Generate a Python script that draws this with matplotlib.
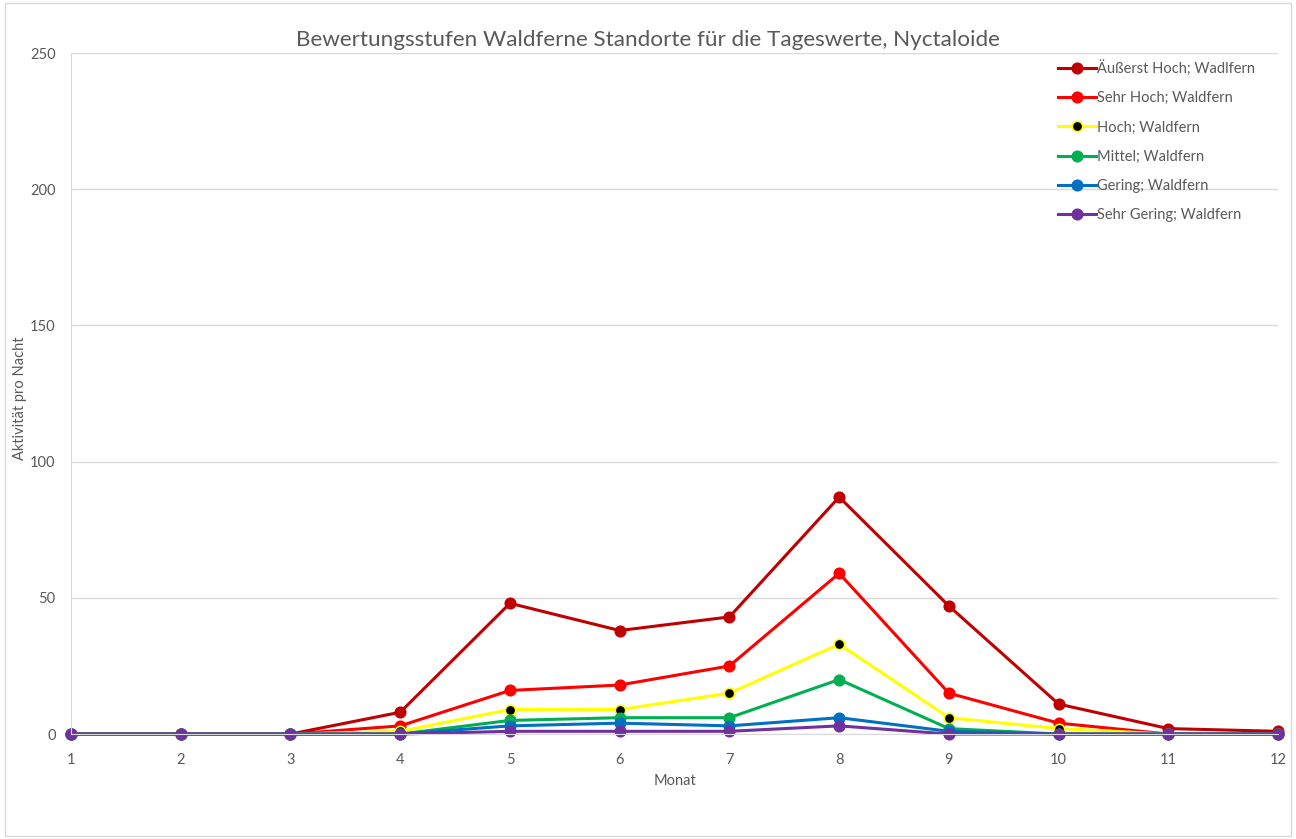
import matplotlib
matplotlib.use("Agg")
import matplotlib.pyplot as plt
from matplotlib.patches import Rectangle

plt.rcParams['font.family'] = ['Lato', 'DejaVu Sans']

months = [1, 2, 3, 4, 5, 6, 7, 8, 9, 10, 11, 12]
aeusserst_hoch = [0, 0, 0, 8, 48, 38, 43, 87, 47, 11, 2, 1]
sehr_hoch = [0, 0, 0, 3, 16, 18, 25, 59, 15, 4, 0, 0]
hoch = [0, 0, 0, 1, 9, 9, 15, 33, 6, 2, 0, 0]
mittel = [0, 0, 0, 0, 5, 6, 6, 20, 2, 0, 0, 0]
gering = [0, 0, 0, 0, 3, 4, 3, 6, 1, 0, 0, 0]
sehr_gering = [0, 0, 0, 0, 1, 1, 1, 3, 0, 0, 0, 0]

labels = ["Äußerst Hoch; Wadlfern", "Sehr Hoch; Waldfern", "Hoch; Waldfern",
          "Mittel; Waldfern", "Gering; Waldfern", "Sehr Gering; Waldfern"]
series = [aeusserst_hoch, sehr_hoch, hoch, mittel, gering, sehr_gering]
colors = ["#C00000", "#FF0000", "#FFFF00", "#00B050", "#0070C0", "#7030A0"]
face = ["#C00000", "#FF0000", "#000000", "#00B050", "#0070C0", "#7030A0"]

fig = plt.figure(figsize=(12.96, 8.39), dpi=100)
fig.patches.append(Rectangle((0.004, 0.004), 0.992, 0.992, transform=fig.transFigure,
                             fill=False, edgecolor="#D9D9D9", linewidth=1))
ax = fig.add_axes([0.0548, 0.1251, 0.9314, 0.8117])

for ys, lab, c, fc in zip(series, labels, colors, face):
    ax.plot(months, ys, color=c, linewidth=2.2, marker='o', markersize=7.5,
            markerfacecolor=fc, markeredgecolor=c, markeredgewidth=1.2, label=lab,
            clip_on=False)

ax.set_xlim(1, 12)
ax.set_ylim(0, 250)
ax.set_xticks(months)
ax.set_yticks([0, 50, 100, 150, 200, 250])
ax.yaxis.grid(True, color="#D9D9D9", linewidth=1)
ax.set_axisbelow(True)
for s in ["top", "right"]:
    ax.spines[s].set_visible(False)
ax.spines["left"].set_color("#D9D9D9")
ax.spines["bottom"].set_color("#D9D9D9")
ax.tick_params(axis='y', length=0, pad=11, labelsize=10.5, labelcolor="#595959")
ax.tick_params(axis='x', length=0, pad=14, labelsize=10.5, labelcolor="#595959")

fig.text(0.5, 1 - 40 / 839, "Bewertungsstufen Waldferne Standorte für die Tageswerte, Nyctaloide",
         fontsize=16.2, color="#595959", ha="center", va="center")
fig.text(675 / 1296, 1 - 781 / 839, "Monat", fontsize=10.5, color="#595959",
         ha="center", va="center")
fig.text(20 / 1296, 1 - 398 / 839, "Aktivität pro Nacht", rotation=90, fontsize=10.5,
         color="#595959", ha="center", va="center")

leg = ax.legend(loc="upper left", bbox_to_anchor=(1052 / 1296, 1 - 54 / 839),
                bbox_transform=fig.transFigure, frameon=False, fontsize=10.5,
                labelspacing=1.05, handlelength=2.6, handletextpad=0.1,
                borderaxespad=0)
for t in leg.get_texts():
    t.set_color("#595959")

fig.savefig("out.png", dpi=100)
